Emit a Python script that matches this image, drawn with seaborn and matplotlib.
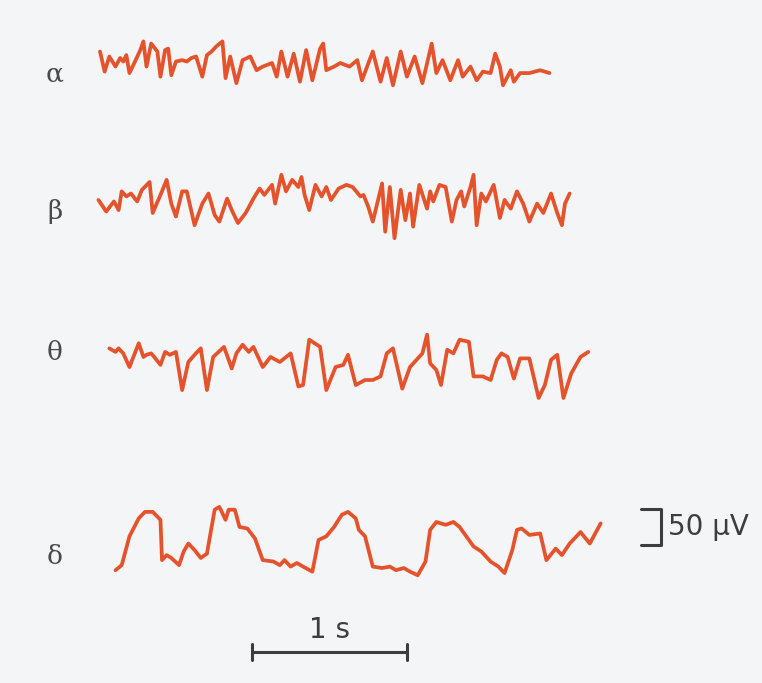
import numpy as np
import pandas as pd
import matplotlib
matplotlib.use("Agg")
import matplotlib.pyplot as plt
import seaborn as sns

# ---- data: time (s) and amplitude (uV, relative to each trace baseline) ----
alpha_t = [0.00, 0.03, 0.06, 0.10, 0.13, 0.15, 0.17, 0.19, 0.23, 0.26, 0.28, 0.30, 0.33, 0.37,
           0.39, 0.42, 0.44, 0.46, 0.49, 0.53, 0.56, 0.59, 0.62, 0.66, 0.69, 0.72, 0.75, 0.79,
           0.81, 0.84, 0.88, 0.92, 0.97, 1.01, 1.05, 1.11, 1.14, 1.17, 1.21, 1.25, 1.29, 1.33,
           1.37, 1.42, 1.44, 1.46, 1.51, 1.55, 1.61, 1.66, 1.69, 1.76, 1.81, 1.85, 1.89, 1.94,
           1.98, 2.03, 2.08, 2.14, 2.17, 2.21, 2.26, 2.31, 2.34, 2.39, 2.43, 2.47, 2.52, 2.55,
           2.58, 2.60, 2.65, 2.67, 2.71, 2.77, 2.84, 2.90]
alpha_v = [16, -12, 9, -5, 7, 2, 11, -14, 4, 18, 30, -5, 27, 16,
           -19, 18, 20, -17, 2, 4, 2, 7, 9, -19, 11, 16, 23, 30,
           -21, 9, -28, 4, 9, -10, -5, 0, -19, 16, -19, 13, -26, 18,
           -24, 20, 27, -10, -5, 0, -5, 4, -24, 16, -26, 7, -31, 16,
           -19, 9, -28, 27, -14, 4, -24, 4, -19, -5, -24, -12, -14, 13,
           -5, -31, -10, -26, -14, -14, -10, -14]

beta_t = [-0.01, 0.04, 0.09, 0.12, 0.14, 0.17, 0.20, 0.24, 0.27, 0.32, 0.34, 0.39, 0.43, 0.46,
          0.49, 0.53, 0.56, 0.61, 0.66, 0.70, 0.74, 0.77, 0.82, 0.85, 0.89, 0.94, 0.99, 1.03,
          1.06, 1.11, 1.13, 1.17, 1.20, 1.24, 1.28, 1.30, 1.32, 1.35, 1.39, 1.43, 1.46, 1.49,
          1.54, 1.59, 1.63, 1.68, 1.70, 1.73, 1.76, 1.82, 1.84, 1.87, 1.90, 1.94, 1.97, 2.00,
          2.02, 2.06, 2.11, 2.13, 2.15, 2.19, 2.23, 2.27, 2.30, 2.33, 2.35, 2.39, 2.41, 2.43,
          2.46, 2.49, 2.54, 2.58, 2.61, 2.65, 2.69, 2.73, 2.77, 2.82, 2.86, 2.91, 2.95, 2.98,
          3.00, 3.03]
beta_v = [0, -16, -2, -14, 12, 5, 9, -2, 14, 25, -18, 7, 28, -5,
          -23, 12, 12, -35, -5, 9, -21, -30, 2, -14, -32, -18, 2, 16,
          7, 21, -5, 35, 12, 28, 18, 32, 7, -14, 21, 5, 18, 0,
          16, 21, 18, 5, 7, -9, -30, 23, -44, 18, -53, 14, -28, 9,
          -37, 21, -12, 12, -2, 21, 18, -30, 0, 12, -9, 18, 35, -35,
          9, -2, 21, -25, 0, -12, 12, -5, -30, -5, -18, 9, -18, -35,
          -5, 9]

theta_t = [0.06, 0.10, 0.12, 0.15, 0.19, 0.25, 0.28, 0.30, 0.33, 0.35, 0.39, 0.42, 0.45, 0.49,
           0.53, 0.57, 0.61, 0.65, 0.69, 0.73, 0.80, 0.85, 0.88, 0.92, 0.96, 0.99, 1.05, 1.10,
           1.16, 1.23, 1.28, 1.31, 1.35, 1.42, 1.46, 1.52, 1.57, 1.60, 1.65, 1.71, 1.76, 1.81,
           1.85, 1.89, 1.95, 2.00, 2.08, 2.11, 2.13, 2.17, 2.20, 2.24, 2.28, 2.32, 2.38, 2.41,
           2.47, 2.52, 2.56, 2.59, 2.63, 2.67, 2.71, 2.77, 2.83, 2.87, 2.91, 2.95, 2.99, 3.04,
           3.10, 3.15]
theta_v = [19, 14, 19, 12, -7, 26, 7, 10, 12, 7, -4, 14, 10, 14,
           -39, 0, 10, 19, -39, 7, 21, -9, 12, 24, 14, 21, -7, 7,
           0, 12, -34, -32, 31, 21, -39, -7, -4, 10, -32, -25, -25, -20,
           12, 19, -37, -7, 12, 38, -2, -11, -32, 17, 12, 31, 28, -20,
           -20, -25, 3, 12, 7, -23, 5, 5, -50, -32, 3, 10, -50, -16,
           7, 14]

delta_t = [0.10, 0.14, 0.19, 0.25, 0.29, 0.34, 0.39, 0.40, 0.43, 0.46, 0.51, 0.54, 0.57, 0.61,
           0.65, 0.69, 0.72, 0.74, 0.77, 0.81, 0.83, 0.87, 0.90, 0.95, 1.00, 1.05, 1.12, 1.16,
           1.19, 1.23, 1.27, 1.31, 1.37, 1.41, 1.46, 1.51, 1.56, 1.60, 1.65, 1.67, 1.71, 1.76,
           1.82, 1.87, 1.91, 1.96, 2.00, 2.05, 2.10, 2.13, 2.17, 2.23, 2.28, 2.32, 2.38, 2.41,
           2.46, 2.52, 2.57, 2.61, 2.66, 2.69, 2.72, 2.77, 2.84, 2.88, 2.94, 2.98, 3.03, 3.10,
           3.16, 3.23]
delta_v = [-35, -28, 12, 37, 46, 46, 35, -21, -14, -18, -28, -9, 2, -7,
           -18, -12, 25, 49, 53, 35, 49, 49, 25, 23, 9, -21, -23, -28,
           -21, -30, -25, -30, -37, 7, 12, 25, 42, 46, 37, 21, 12, -30,
           -32, -30, -35, -32, -37, -42, -23, 21, 32, 28, 32, 25, 7, -2,
           -9, -23, -30, -39, -7, 21, 23, 14, 16, -21, -5, -14, 2, 18,
           2, 30]

band_labels = ["\u03b1", "\u03b2", "\u03b8", "\u03b4"]
time_bar_label = "1 s"
volt_bar_label = "50 \u03bcV"
time_bar_s = 1.0
volt_bar_uv = 50.0

# ---- layout (vertical baselines in the stacked uV axis) ----
PX = 1.389  # uV per pixel
offsets = [-63 * PX, -200 * PX, -362 * PX, -545 * PX]
label_y = [-74 * PX, -212 * PX, -352 * PX, -556 * PX]

sns.set_theme(style="white")
plt.rcParams["font.family"] = ["DejaVu Sans"]

fig = plt.figure(figsize=(7.62, 6.83), dpi=100)
bg = "#f4f5f6"
fig.patch.set_facecolor(bg)
ax = fig.add_axes([0, 0, 1, 1])
ax.set_facecolor(bg)

trace_color = "#e5532c"
series = [(alpha_t, alpha_v), (beta_t, beta_v), (theta_t, theta_v), (delta_t, delta_v)]
for (t, v), off in zip(series, offsets):
    df = pd.DataFrame({"t": t, "v": np.asarray(v, float) + off})
    sns.lineplot(data=df, x="t", y="v", sort=False, estimator=None, ax=ax,
                 color=trace_color, linewidth=2.7, solid_joinstyle="round",
                 solid_capstyle="round")

for lab, y in zip(band_labels, label_y):
    ax.text(-0.29, y, lab, family="DejaVu Serif", fontsize=19, color="#4a4a4a",
            ha="center", va="center")

# time scale bar
bar_col = "#3d3d3d"
t0 = 0.98
yb = -651.7 * PX
ax.plot([t0, t0 + time_bar_s], [yb, yb], color=bar_col, lw=2.2)
for tx in (t0, t0 + time_bar_s):
    ax.plot([tx, tx], [yb - 8 * PX, yb + 8 * PX], color=bar_col, lw=2.2)
ax.text(t0 + time_bar_s / 2, -630 * PX, time_bar_label, fontsize=20, color=bar_col,
        ha="center", va="center")

# voltage scale bar
vx = 3.62
vtop = -509 * PX
ax.plot([3.49, vx, vx, 3.49], [vtop, vtop, vtop - volt_bar_uv, vtop - volt_bar_uv],
        color=bar_col, lw=2.2)
ax.text(3.665, vtop - volt_bar_uv / 2, volt_bar_label, fontsize=20, color=bar_col,
        ha="left", va="center")

ax.set_xlim(-100 / 155, 662 / 155)
ax.set_ylim(-683 * PX, 0)
ax.set_axis_off()

fig.savefig("out.png", dpi=100, facecolor=bg)
